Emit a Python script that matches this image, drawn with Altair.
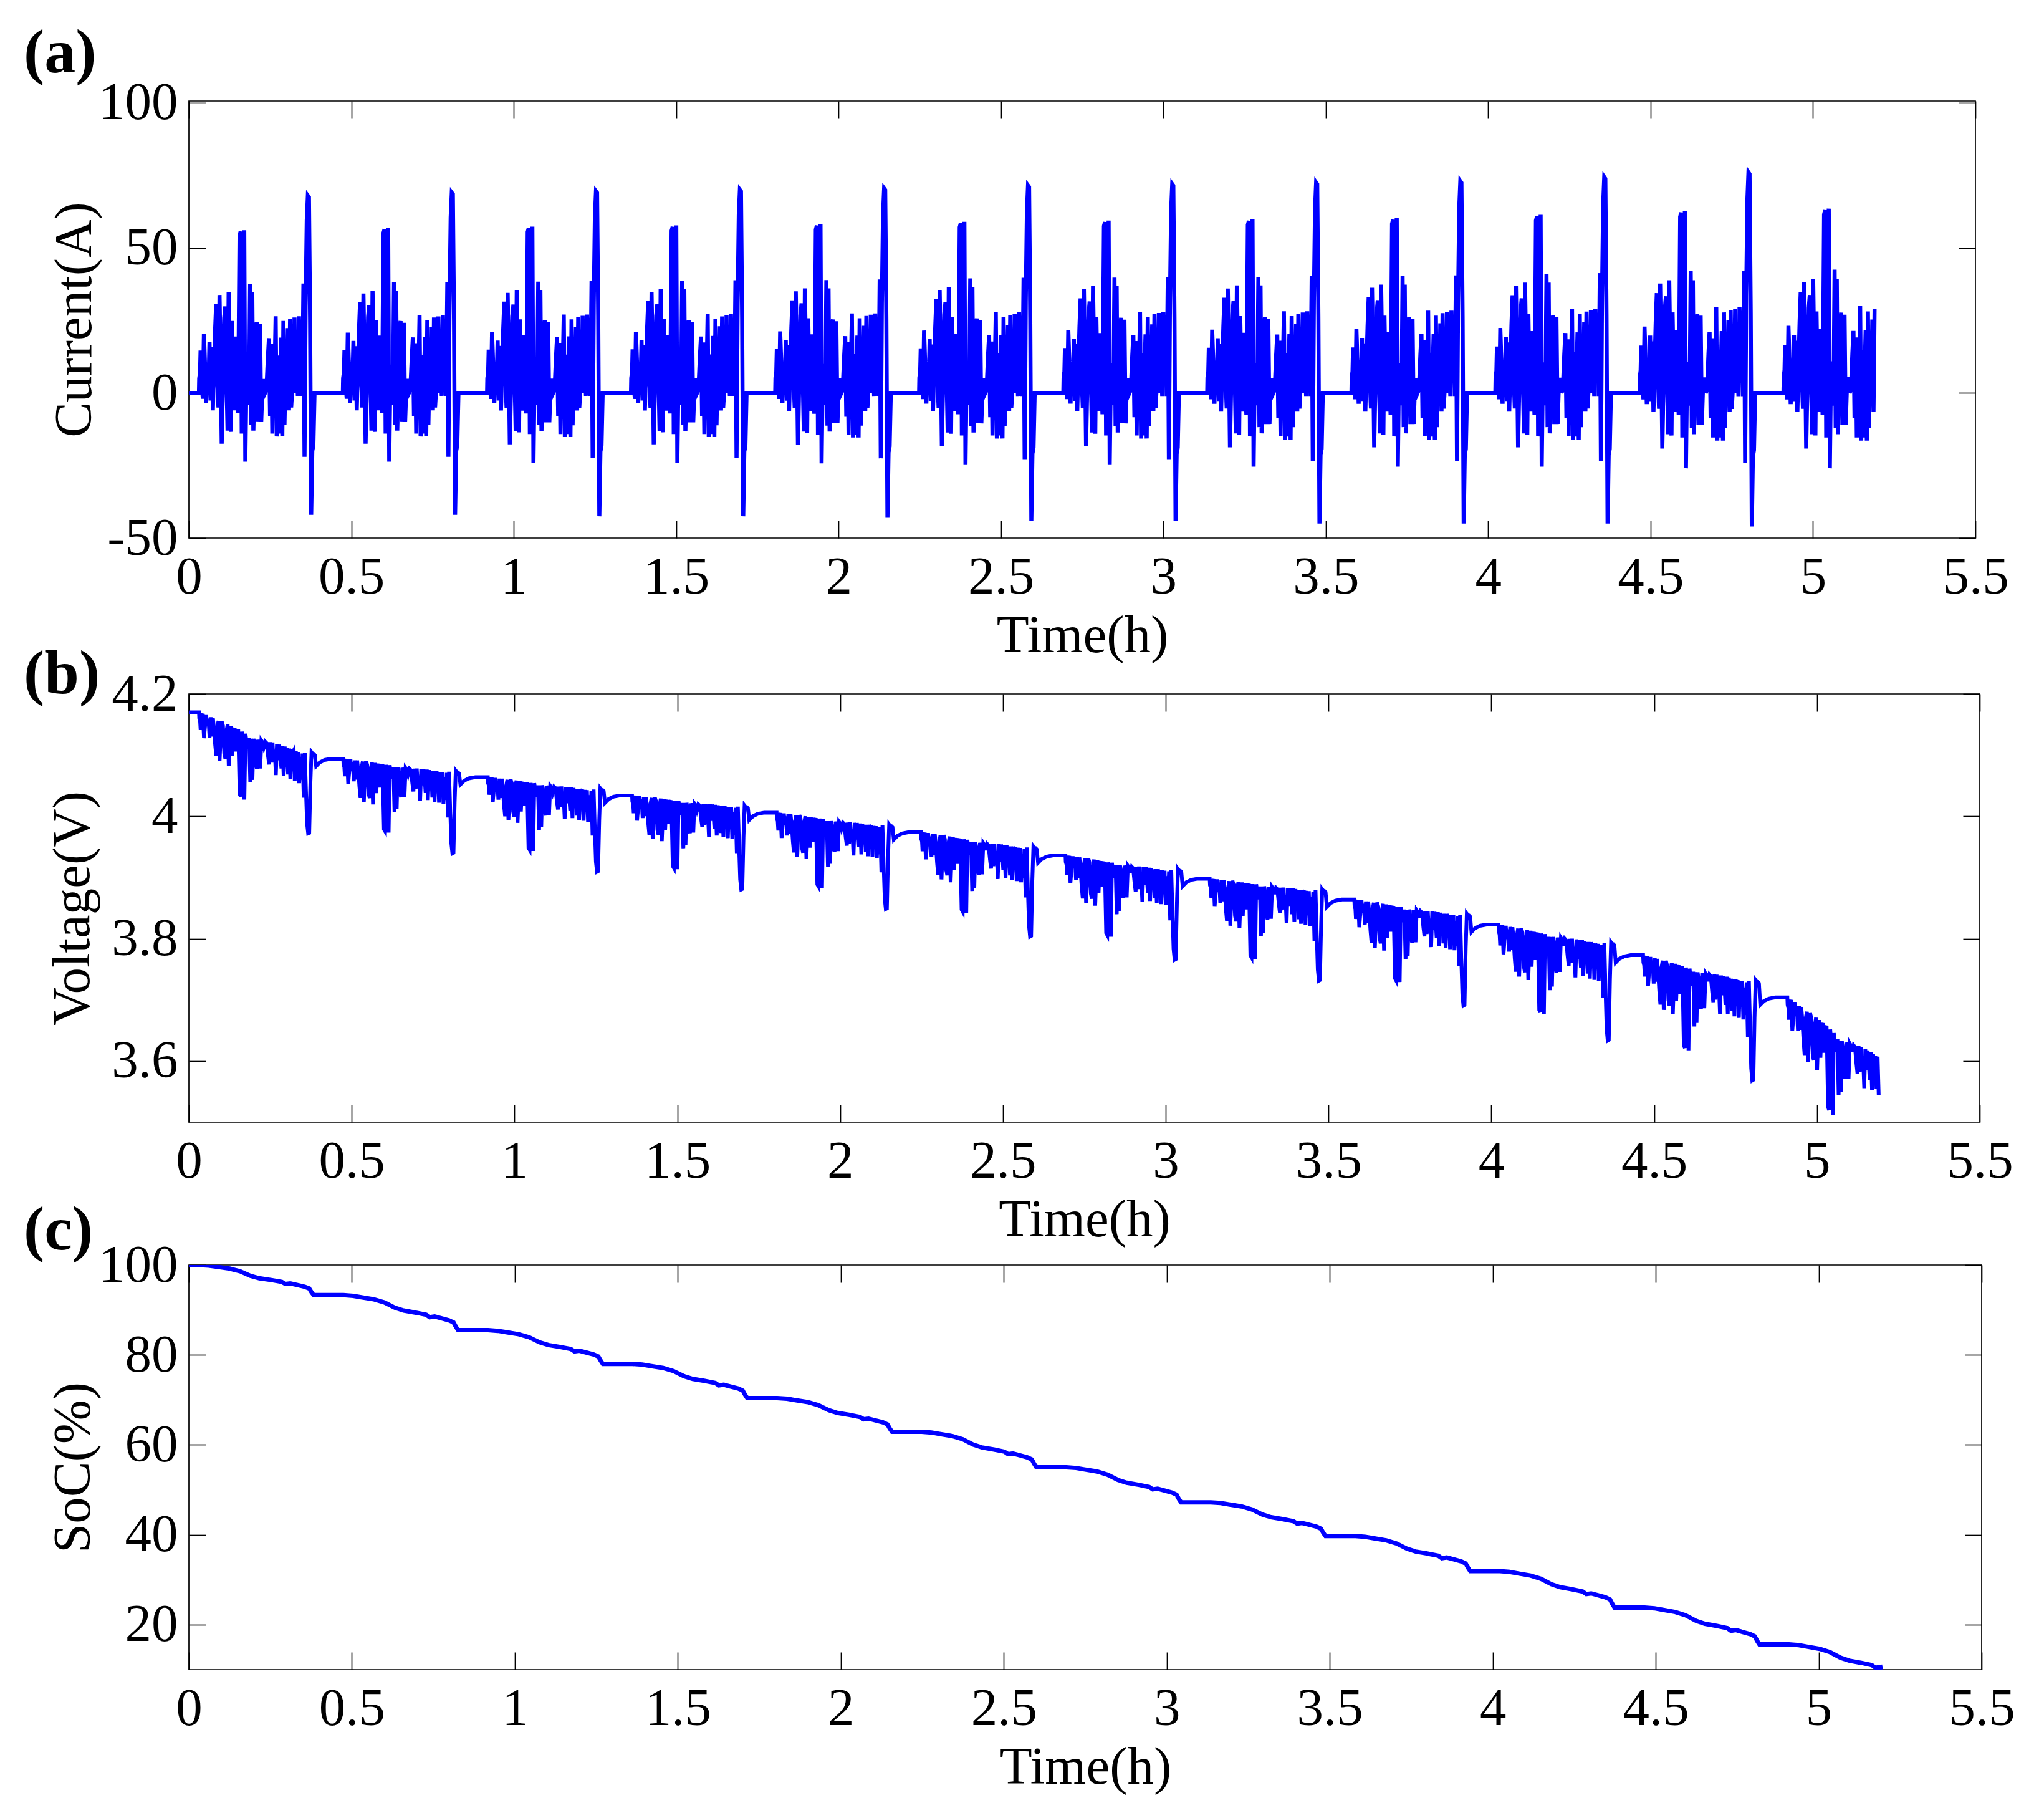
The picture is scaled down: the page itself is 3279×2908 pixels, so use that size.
import altair as alt
import numpy as np
import pandas as pd

# ---------------- values ----------------
# start time (h) of each repeated drive cycle in panel (a)
cycle_start = [0.031, 0.474, 0.918, 1.361, 1.805, 2.248, 2.692, 3.135, 3.579, 4.022, 4.466, 4.909]
t_end = 5.19  # test stops (SoC reaches 10 %)

# one drive cycle of current, read from the first cycle: time from cycle start (s), current (A)
base_s = [0, 3, 12, 18, 31, 43, 55, 68, 80, 92, 105, 117, 129, 142, 154, 166, 179, 191, 203, 216,
          228, 240, 252, 265, 280, 292, 305, 317, 329, 342, 354, 366, 379, 394, 409, 422, 434, 450,
          462, 474, 486, 502, 514, 526, 542, 554, 567, 579, 591, 603, 616, 628, 640, 653, 665, 677,
          690, 702, 717, 733, 748, 764, 776, 788, 801, 813, 825, 837, 850, 862, 874, 887, 899, 911,
          924, 936, 948, 961, 973, 985, 998, 1010, 1022, 1035, 1047, 1059, 1071, 1084, 1096, 1108,
          1121, 1133, 1145, 1158, 1170, 1182, 1195, 1207, 1219, 1232, 1244, 1256, 1268, 1281]
base_i = [0, 5, 7, 14.7, 3, -2, 20.6, 9, -3.5, 9, 2, 17.8, -2.6, 16, -6, 8, 21.7, 31, 5, -5,
          34, 12, -17.5, 2, 26, 30, 5, -13, 35, 10, -13.4, 25, 3, -6, 19.6, 2, -7, 54.7,
          56, -14, 8, 56.5, -23.7, 5, 9.7, -4, 37.8, -11, 35, -13, 5, 21, 24.6, -10, 3, 24,
          -10, 0.7, 4.8, 0, 1, 12.2, 19, -8, 17, -14, 15, 5, 26.6, -15, 13, -14, 6, 19.2,
          -15, 25, -11, 10, 0, 22.5, -6, 25.8, -5, 2, 0, 26.2, 0, 9.3, -1, 26.6,
          4, 23, -1, 38, -22, 30, 60, 68.5, 68, 24.6, -42, -20, -18, 0]
base_peak = 68.5
base_trough = -42.0
# largest discharge / charge current of each cycle (A)
peak_pos = [68.0, 69.0, 69.5, 70.0, 70.5, 71.5, 72.0, 72.5, 73.0, 74.4, 76.0, 77.0]
peak_neg = [-42.0, -42.0, -42.5, -42.5, -43.0, -44.0, -44.0, -45.0, -45.0, -45.0, -46.0, -46.0]

# panel (b): rest voltage before each cycle, upper-envelope voltage at cycle end, sag per amp
rest_v = [4.170, 4.094, 4.064, 4.034, 4.006, 3.974, 3.936, 3.898, 3.864, 3.823, 3.773, 3.704]
env_end_v = [4.100, 4.070, 4.041, 4.013, 3.982, 3.946, 3.909, 3.876, 3.836, 3.789, 3.727, 3.590]
sag = [0.0019, 0.0019, 0.0019, 0.0019, 0.0019, 0.0020, 0.0020, 0.0020, 0.0020, 0.0021, 0.0021, 0.0021]
sag_regen = 0.0001
env_tau = [0, 0.022, 0.06, 0.12, 0.16, 0.22, 0.26, 0.32, 0.358]
env_frac = [0, 0.07, 0.21, 0.41, 0.63, 0.71, 0.81, 0.97, 1.0]
relax_dt = [0.004, 0.015, 0.03, 0.05]
relax_dv = [-0.012, -0.006, -0.002, 0.0]

# panel (c): SoC at the start of each cycle and the shape of the fall within a cycle
soc_start = [100.0, 93.3, 85.5, 78.0, 70.4, 62.9, 55.0, 47.2, 39.7, 31.9, 23.8, 15.6]
soc_last_nominal = 7.4
soc_final = 10.0
soc_tau = [0, 0.03, 0.055, 0.094, 0.126, 0.158, 0.185, 0.222, 0.254, 0.265, 0.28, 0.30, 0.324, 0.338, 0.345, 0.352]
soc_frac = [0, 0.02, 0.06, 0.12, 0.21, 0.36, 0.44, 0.50, 0.56, 0.63, 0.61, 0.66, 0.72, 0.78, 0.90, 1.0]

# ---------------- assemble the series ----------------
rows_i = [(0.0, 0.0)]
rows_v = [(0.0, rest_v[0])]
rows_s = [(0.0, soc_start[0])]
n = len(cycle_start)
for k in range(n):
    t0 = cycle_start[k]
    gp = peak_pos[k] / base_peak
    gn = peak_neg[k] / base_trough
    last = k == n - 1
    for s, i in zip(base_s, base_i):
        tau = s / 3600.0
        t = t0 + tau
        if t > t_end:
            break
        cur = i * gp if i > 0 else i * gn
        rows_i.append((t, cur))
        env = rest_v[k] - (rest_v[k] - env_end_v[k]) * np.interp(tau, env_tau, env_frac)
        rows_v.append((t, env - sag[k] * max(cur, 0) - sag_regen * min(cur, 0)))
    if not last:
        te = t0 + base_s[-1] / 3600.0
        for dt, dv in zip(relax_dt, relax_dv):
            rows_v.append((te + dt, rest_v[k + 1] + dv))
    s0 = soc_start[k]
    s1 = soc_start[k + 1] if not last else soc_last_nominal
    for tau, f in zip(soc_tau, soc_frac):
        t = t0 + tau
        if t > t_end:
            break
        rows_s.append((t, s0 - (s0 - s1) * f))
    if last:
        rows_s.append((t_end, soc_final))

df_i = pd.DataFrame(rows_i, columns=["t", "val"])
df_v = pd.DataFrame(rows_v, columns=["t", "val"])
df_s = pd.DataFrame(rows_s, columns=["t", "val"])

# ---------------- chart ----------------
FONT = "Liberation Serif"
BLUE = "#0000FF"
x_ticks = [0, 0.5, 1, 1.5, 2, 2.5, 3, 3.5, 4, 4.5, 5, 5.5]
LBL = "'' + datum.value"


def panel(df, ydom, yticks, ytitle, tag, W, H, ytitle_x, tag_dy, lw):
    xs = alt.Scale(domain=[0, 5.5], nice=False, zero=False)
    ys = alt.Scale(domain=ydom, nice=False, zero=False)
    main = alt.Chart(df).mark_line(color=BLUE, strokeWidth=lw, clip=True).encode(
        x=alt.X("t:Q", scale=xs, title="Time(h)",
                axis=alt.Axis(orient="bottom", values=x_ticks, labelExpr=LBL, ticks=False, tickSize=0,
                              domain=False, grid=False, labelPadding=21, labelFlush=False,
                              labelOverlap=False, titleY=115, titleBaseline="top")),
        y=alt.Y("val:Q", scale=ys, title=ytitle,
                axis=alt.Axis(orient="left", values=yticks, labelExpr=LBL, ticks=False, tickSize=0,
                              domain=False, grid=False, labelPadding=18, labelOverlap=False,
                              titleX=ytitle_x, titleAngle=270, titleBaseline="alphabetic")),
    )
    h1 = alt.Chart(df).mark_line(opacity=0).encode(
        x=alt.X("t:Q", scale=xs, title=None,
                axis=alt.Axis(orient="top", offset=-H, values=x_ticks, labels=False, domain=False,
                              grid=False, tickSize=28)),
        y=alt.Y("val:Q", scale=ys, title=None,
                axis=alt.Axis(orient="right", offset=-W, values=yticks, labels=False, domain=False,
                              grid=False, tickSize=27)),
    )
    h2 = alt.Chart(df).mark_line(opacity=0).encode(
        x=alt.X("t:Q", scale=xs, title=None,
                axis=alt.Axis(orient="bottom", offset=-H, values=x_ticks, labels=False, domain=False,
                              grid=False, tickSize=28)),
        y=alt.Y("val:Q", scale=ys, title=None,
                axis=alt.Axis(orient="left", offset=-W, values=yticks, labels=False, domain=False,
                              grid=False, tickSize=27)),
    )
    return alt.layer(main, h1, h2).resolve_axis(x="independent", y="independent").properties(
        width=W, height=H,
        title=alt.TitleParams(text=tag, anchor="start", frame="group", dx=-265, dy=tag_dy, offset=0,
                              baseline="alphabetic", fontSize=100, fontWeight="bold", font=FONT,
                              color="black"),
    )


pa = panel(df_i, [-50, 100.6], [-50, 0, 50, 100], "Current(A)", "(a)", 2866, 701, -158, 93, 6.5)
pb = panel(df_v, [3.5, 4.2], [3.6, 3.8, 4.0, 4.2], "Voltage(V)", "(b)", 2873, 687, -161, 141, 6.0)
pc = panel(df_s, [10, 100], [20, 40, 60, 80, 100], "SoC(%)", "(c)", 2876, 649, -160, 117, 7.0)

chart = alt.vconcat(
    pa,
    alt.vconcat(pb, pc, spacing=229, bounds="flush"),
    spacing=250, bounds="flush",
).properties(
    padding={"left": 29, "top": 26, "right": 20, "bottom": 10},
    background="white",
).configure_view(
    stroke="black", strokeWidth=1.7
).configure_axis(
    labelFont=FONT, titleFont=FONT, labelFontSize=85, titleFontSize=85,
    labelColor="black", titleColor="black", tickColor="black", tickWidth=1.7,
    titleFontWeight="normal",
)

chart.save("out.html", embed_options={"renderer": "svg", "actions": False})
